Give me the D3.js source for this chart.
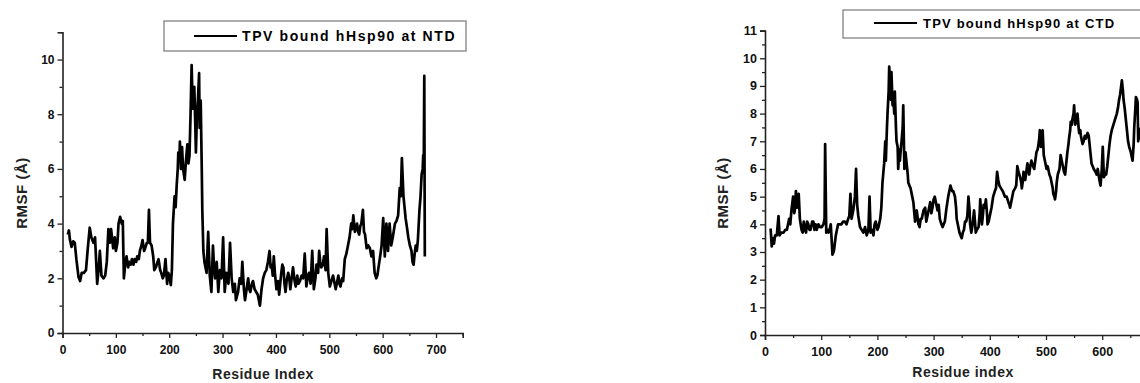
<!DOCTYPE html>
<html>
<head>
<meta charset="utf-8">
<script src="https://cdn.jsdelivr.net/npm/d3@7/dist/d3.min.js"></script>
<style>
  html, body { margin: 0; padding: 0; background: #fff; }
  svg { display: block; font-family: "Liberation Sans", Arial, sans-serif; }
  .tick text { font-weight: bold; fill: #111; }
</style>
</head>
<body>
<svg id="chart" width="1140" height="383"></svg>
<script>
// ---------------- DATA ----------------
const ntdLabel = "TPV bound hHsp90 at NTD";
const ctdLabel = "TPV bound hHsp90 at CTD";
const xTitleLeft = "Residue Index";
const xTitleRight = "Residue index";
const yTitle = "RMSF (Å)";

const xTicks = [0, 100, 200, 300, 400, 500, 600, 700];
const yTicksLeft = [0, 2, 4, 6, 8, 10];
const yTicksRight = [0, 1, 2, 3, 4, 5, 6, 7, 8, 9, 10, 11];

const ntdResidue = [10,12,14,17,20,23,26,30,33,36,40,44,47,51,54,58,61,65,68,70,73,77,80,83,86,89,91,95,98,100,103,105,108,111,113,115,118,120,123,125,128,130,133,135,138,140,143,145,148,150,153,155,158,160,162,164,167,170,172,175,178,180,183,185,188,190,193,196,198,200,203,205,207,210,212,214,216,217,219,220,222,224,226,229,231,234,236,238,240,242,244,245,247,249,250,252,254,256,257,259,261,262,264,266,268,270,273,276,279,282,284,286,289,292,295,298,301,304,307,311,314,317,320,323,325,329,332,335,337,340,342,345,348,350,352,355,357,360,363,366,370,373,376,379,382,385,388,390,392,394,396,398,401,404,406,408,410,412,414,416,418,420,423,425,427,430,432,435,437,440,442,445,448,451,454,457,460,462,465,468,471,474,476,479,481,483,485,488,490,493,495,498,501,504,507,510,512,515,517,519,521,524,526,529,532,535,538,541,543,545,548,550,552,554,556,558,560,563,565,567,570,573,576,579,582,585,588,590,593,596,598,601,604,607,610,613,616,619,623,626,629,632,634,636,639,641,643,646,648,651,654,656,658,660,662,664,666,669,671,673,675,676,677,678,679];
const ntdRmsf = [3.6,3.75,3.4,3.15,3.35,3.3,2.7,2.05,1.9,2.2,2.2,2.3,3.0,3.85,3.5,3.3,3.5,1.8,2.4,3.0,2.1,2.0,2.1,2.6,3.8,3.3,3.8,3.1,3.5,3.0,3.3,4.0,4.25,4.0,4.1,2.0,2.6,2.8,2.4,2.6,2.5,2.7,2.5,2.7,2.6,2.8,2.7,3.0,3.2,3.4,3.0,3.1,3.3,3.3,4.5,3.3,3.2,2.8,2.3,2.4,2.6,2.7,2.3,2.2,2.0,2.1,2.7,1.8,2.2,2.1,1.75,2.3,4.0,5.0,4.6,5.4,6.0,6.6,6.3,7.0,6.0,6.8,6.0,5.6,6.2,6.9,6.2,6.5,8.0,9.8,8.2,8.8,9.0,7.5,6.6,8.0,8.6,9.5,7.5,8.5,6.0,4.5,3.0,2.6,2.4,2.2,3.7,2.1,1.5,3.2,2.4,2.0,2.6,1.5,2.3,2.0,3.5,1.5,2.2,1.8,3.3,2.0,1.5,1.8,1.2,1.5,2.0,1.8,2.6,1.6,1.2,1.6,2.0,1.6,1.5,1.8,1.9,1.6,1.5,1.4,1.0,1.6,2.0,2.2,2.3,2.6,3.0,2.4,2.5,2.1,2.8,2.2,1.6,1.9,1.4,1.8,2.2,2.5,2.4,1.8,1.5,1.9,2.2,2.0,1.6,2.1,2.4,1.9,1.7,2.1,1.8,1.9,2.1,2.0,2.9,1.7,2.1,2.2,1.8,3.0,1.6,2.0,2.5,2.2,3.0,2.6,2.4,2.5,2.8,2.3,3.8,2.2,1.7,1.9,2.1,1.8,1.6,1.9,2.1,1.8,1.7,2.0,1.9,2.7,2.9,3.2,3.5,4.0,3.8,4.3,3.7,3.9,4.0,3.7,3.6,3.9,4.0,4.5,3.7,3.6,3.1,3.2,3.1,2.8,3.0,2.2,2.0,2.1,2.5,2.9,3.2,4.2,2.8,4.0,3.0,4.0,3.2,3.5,4.0,4.1,4.3,5.3,5.0,6.4,5.0,4.6,4.2,3.8,3.5,3.2,3.0,2.6,2.5,2.9,3.2,3.0,3.4,4.5,5.0,5.8,6.0,6.5,6.0,9.4,2.8];

const ctdResidue = [10,12,14,16,18,21,24,26,29,33,36,39,43,45,47,50,52,53,55,57,58,60,62,65,67,69,71,73,75,77,79,81,84,86,88,90,92,95,98,101,104,106,107,109,111,113,115,117,119,120,122,123,126,128,130,133,136,139,142,145,148,150,152,154,157,160,162,164,166,169,172,175,178,181,184,186,188,191,193,195,197,200,202,205,207,209,212,214,215,217,218,220,221,223,224,225,227,228,230,231,233,234,236,237,239,240,242,243,245,246,248,250,252,254,255,257,259,262,264,267,270,273,275,277,279,282,285,287,289,292,294,296,298,300,302,305,307,309,311,314,316,318,320,323,326,328,330,333,335,338,340,341,344,346,348,350,352,354,356,358,360,362,364,365,367,368,370,372,374,375,377,380,382,383,385,386,388,389,391,393,395,396,398,400,403,406,409,411,413,415,417,420,423,425,427,430,433,435,436,439,442,445,447,449,451,454,456,457,459,460,462,463,465,467,469,470,472,474,477,479,481,483,485,486,488,489,491,493,494,496,498,501,503,506,508,510,512,513,515,516,518,519,521,524,526,528,530,532,534,536,538,540,541,543,544,546,547,549,550,552,554,556,558,559,561,562,564,565,567,569,571,574,576,577,579,581,583,585,588,590,592,595,597,599,601,603,605,607,609,611,613,615,617,620,623,626,628,630,632,635,637,638,640,642,644,646,648,651,653,654,656,657,659,660,662,663,664,666,668];
const ctdRmsf = [3.85,3.2,3.5,3.3,3.6,3.6,4.3,3.6,3.7,3.7,3.8,3.8,4.2,4.0,4.5,5.0,4.4,4.5,5.2,4.6,4.7,5.1,4.2,3.8,3.7,4.1,3.8,3.7,4.1,4.0,3.8,3.8,4.1,4.1,3.8,4.0,3.8,4.0,3.9,3.9,4.0,4.2,6.9,3.7,3.8,3.7,3.8,4.0,3.3,2.9,3.0,3.1,3.6,3.8,4.0,4.0,4.0,4.1,4.1,4.0,4.2,4.3,5.1,4.2,4.5,5.0,6.0,4.7,4.3,3.9,3.8,3.7,3.9,3.6,3.8,5.0,3.7,3.8,3.6,4.0,4.1,3.8,3.9,4.2,4.6,5.5,6.2,7.0,6.3,7.5,8.0,8.8,9.7,9.0,8.5,9.5,8.3,8.7,8.0,8.8,7.5,7.0,6.8,6.0,6.7,6.3,6.8,7.0,7.5,8.3,6.0,6.6,6.2,5.8,5.5,5.4,5.3,5.0,4.8,4.1,4.5,4.0,3.9,4.2,4.2,4.5,4.6,4.1,4.3,4.6,4.8,4.4,4.6,4.9,5.0,4.7,4.5,4.7,4.2,4.0,3.9,4.0,4.1,4.6,5.0,5.2,5.4,5.2,5.2,5.0,4.6,4.2,3.9,3.7,3.6,3.5,3.7,3.8,4.1,4.1,4.3,5.0,4.5,4.0,3.7,3.8,4.1,4.5,4.0,3.7,3.8,3.9,4.4,4.9,4.2,4.0,4.4,4.7,4.6,4.9,4.4,4.0,4.1,4.3,4.6,5.0,5.2,5.3,5.9,5.6,5.4,5.3,5.2,5.1,5.0,5.0,4.8,4.7,4.6,4.9,5.2,5.3,5.4,6.1,5.9,5.7,5.5,5.3,5.6,5.9,5.7,5.6,5.9,6.2,6.0,5.8,6.1,6.3,6.1,6.0,6.3,6.6,6.7,6.8,7.1,7.4,6.8,7.2,7.4,6.5,6.3,6.0,6.1,5.8,5.7,5.5,5.3,5.1,5.0,4.9,5.2,5.5,5.8,6.0,6.5,6.3,6.1,5.9,5.8,6.2,6.6,6.9,7.1,7.4,7.7,7.6,7.8,8.0,8.3,7.6,7.8,8.0,7.5,7.3,7.4,7.2,7.0,6.9,7.0,7.2,7.1,7.3,7.2,7.0,6.6,6.2,6.1,6.0,5.9,5.8,6.0,5.6,5.4,5.9,6.8,5.7,5.8,5.8,6.1,6.5,6.9,7.2,7.4,7.6,7.8,8.0,8.2,8.5,8.7,9.2,8.8,8.5,8.2,7.8,7.4,7.0,6.8,6.6,6.4,6.3,6.9,7.5,8.2,8.6,8.5,8.4,7.0,7.2,7.5];

// ---------------- DRAW ----------------
const svg = d3.select("#chart");
const W = 1140;

function panel(o) {
  const g = svg.append("g");
  const x = d3.scaleLinear().domain([0, 750]).range([o.x0, o.x1]);
  const y = d3.scaleLinear().domain([0, 11]).range([o.y0, o.y1]);

  const axisColor = "#222";
  // only label ticks that fall inside the picture
  const shownX = xTicks.filter(v => x(v) + 12 < W);

  const gxm = g.append("g").attr("transform", `translate(0,${o.y0})`)
    .call(d3.axisBottom(x).tickValues(o.xMinor).tickSize(3).tickFormat(""));
  const gym = g.append("g").attr("transform", `translate(${o.x0},0)`)
    .call(d3.axisLeft(y).tickValues(o.yMinor).tickSize(3).tickFormat(""));

  const gx = g.append("g").attr("transform", `translate(0,${o.y0})`)
    .call(d3.axisBottom(x).tickValues(shownX).tickSize(5).tickPadding(7).tickFormat(d3.format("d")));
  const gy = g.append("g").attr("transform", `translate(${o.x0},0)`)
    .call(d3.axisLeft(y).tickValues(o.yTicks).tickSize(5).tickPadding(3).tickFormat(d3.format("d")));

  [gx, gy, gxm, gym].forEach(a => {
    a.selectAll("path.domain").attr("stroke", axisColor).attr("stroke-width", 1.6);
    a.selectAll(".tick line").attr("stroke", axisColor).attr("stroke-width", 1.3);
  });
  gx.selectAll(".tick text").style("font-size", o.tickFont + "px");
  gy.selectAll(".tick text").style("font-size", o.tickFont + "px");
  gym.select("path.domain").remove();
  gxm.select("path.domain").remove();

  const pts = o.res.map((r, i) => [r, o.val[i]]);
  g.append("path")
    .datum(pts)
    .attr("fill", "none")
    .attr("stroke", "#000")
    .attr("stroke-width", 2.7)
    .attr("stroke-linejoin", "round")
    .attr("d", d3.line().x(d => x(d[0])).y(d => y(d[1])));

  g.append("text")
    .attr("x", o.xtX).attr("y", o.xtY)
    .attr("text-anchor", "middle")
    .style("font-size", "14px").style("font-weight", "bold")
    .style("letter-spacing", "0.5px").attr("fill", "#222")
    .text(o.xTitle);
  g.append("text")
    .attr("transform", `translate(${o.ytX},${o.ytY}) rotate(-90)`)
    .attr("text-anchor", "middle")
    .style("font-size", "15px").style("font-weight", "bold")
    .style("letter-spacing", "0.5px").attr("fill", "#222")
    .text(yTitle);

  g.append("rect")
    .attr("x", o.lg.x).attr("y", o.lg.y).attr("width", o.lg.w).attr("height", o.lg.h)
    .attr("fill", "#fff").attr("stroke", "#777").attr("stroke-width", 1.2);
  g.append("line")
    .attr("x1", o.lg.lx0).attr("x2", o.lg.lx1).attr("y1", o.lg.ly).attr("y2", o.lg.ly)
    .attr("stroke", "#000").attr("stroke-width", 2);
  g.append("text")
    .attr("x", o.lg.tx).attr("y", o.lg.ty)
    .style("font-size", o.lg.fs + "px").style("font-weight", "bold")
    .style("letter-spacing", o.lg.ls + "px").attr("fill", "#000")
    .text(o.label);
}

panel({
  x0: 62.5, x1: 462.7, y0: 333, y1: 32.2,
  res: ntdResidue, val: ntdRmsf,
  yTicks: yTicksLeft, yMinor: [1, 3, 5, 7, 9, 11],
  xMinor: [50, 150, 250, 350, 450, 550, 650, 750],
  tickFont: 12,
  xTitle: xTitleLeft, xtX: 263, xtY: 379,
  ytX: 27, ytY: 193,
  label: ntdLabel,
  lg: { x: 164, y: 21, w: 302, h: 30, lx0: 194, lx1: 237, ly: 36, tx: 242, ty: 41, fs: 14, ls: 1.6 }
});

panel({
  x0: 765, x1: 1186.5, y0: 335, y1: 30.6,
  res: ctdResidue, val: ctdRmsf,
  yTicks: yTicksRight, yMinor: [0.5, 1.5, 2.5, 3.5, 4.5, 5.5, 6.5, 7.5, 8.5, 9.5, 10.5],
  xMinor: [50, 150, 250, 350, 450, 550, 650, 750],
  tickFont: 12.5,
  xTitle: xTitleRight, xtX: 963, xtY: 377,
  ytX: 728, ytY: 193,
  label: ctdLabel,
  lg: { x: 843, y: 10, w: 310, h: 28, lx0: 874, lx1: 917, ly: 23, tx: 923, ty: 28, fs: 13, ls: 1.2 }
});
</script>
</body>
</html>
